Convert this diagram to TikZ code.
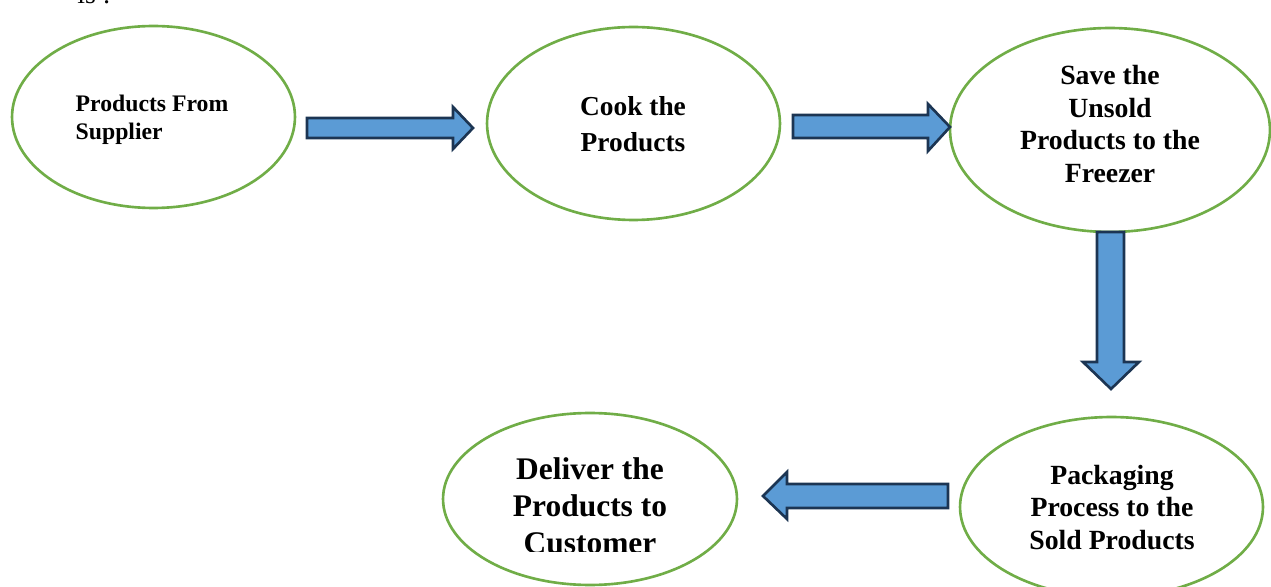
\documentclass[tikz,border=0pt]{standalone}
\usepackage{fontspec}
\setmainfont{Liberation Serif}
\usetikzlibrary{shapes.geometric}
\definecolor{egreen}{HTML}{70AD47}
\definecolor{afill}{HTML}{5B9BD5}
\definecolor{aline}{HTML}{1C3553}
\tikzset{
  ell/.style={ellipse, draw=egreen, line width=1.5pt, inner sep=0pt},
  txt/.style={inner sep=0pt, align=center, font=\bfseries},
  blockarrow/.style={fill=afill, draw=aline, line width=1.5pt, line join=miter},
}
\begin{document}
\begin{tikzpicture}[x=0.02cm, y=-0.02cm]
\useasboundingbox (0,0) rectangle (1271,587);
% cut-off text at top (as in the reference)
\node[anchor=base west, inner sep=0pt, font=\fontsize{15.8pt}{19pt}\selectfont] (is) at (77,4) {is :};
% ellipses
\node[ell, minimum width=5.66cm, minimum height=3.64cm] (e1) at (153.5,117) {};
\node[ell, minimum width=5.86cm, minimum height=3.86cm] (e2) at (633.5,123.5) {};
\node[ell, minimum width=6.40cm, minimum height=4.08cm] (e3) at (1110,130) {};
\node[ell, minimum width=6.06cm, minimum height=3.60cm] (e4) at (1111.5,507) {};
\node[ell, minimum width=5.88cm, minimum height=3.44cm] (e5) at (590,499) {};
% texts
\node[txt, align=left, font=\bfseries\fontsize{13.5pt}{16.2pt}\selectfont] (t1) at (152,120) {Products From\\Supplier};
\node[txt, font=\bfseries\fontsize{15.6pt}{20.4pt}\selectfont] (t2) at (633,124) {Cook the\\Products};
\node[txt, font=\bfseries\fontsize{15.8pt}{18.7pt}\selectfont] (t3) at (1110,124) {Save the\\Unsold\\Products to the\\Freezer};
\node[txt, font=\bfseries\fontsize{15.8pt}{18.7pt}\selectfont] (t4) at (1112,507.5) {Packaging\\Process to the\\Sold Products};
\begin{scope}
\clip (440,400) rectangle (740,551.5);
\node[txt, font=\bfseries\fontsize{17.9pt}{21pt}\selectfont] (t5) at (590,506) {Deliver the\\Products to\\Customer};
\end{scope}
% block arrows
\draw[blockarrow] (307,118) -- (453,118) -- (453,107) -- (473,128) -- (453,149) -- (453,138) -- (307,138) -- cycle;
\draw[blockarrow] (793,115) -- (928,115) -- (928,104) -- (950,127) -- (928,151) -- (928,138) -- (793,138) -- cycle;
\draw[blockarrow] (1097,232) -- (1097,362) -- (1083,362) -- (1111,389) -- (1139,362) -- (1124,362) -- (1124,232) -- cycle;
\draw[blockarrow] (948,484) -- (787,484) -- (787,472) -- (763,496) -- (787,519) -- (787,508) -- (948,508) -- cycle;
\end{tikzpicture}
\end{document}
